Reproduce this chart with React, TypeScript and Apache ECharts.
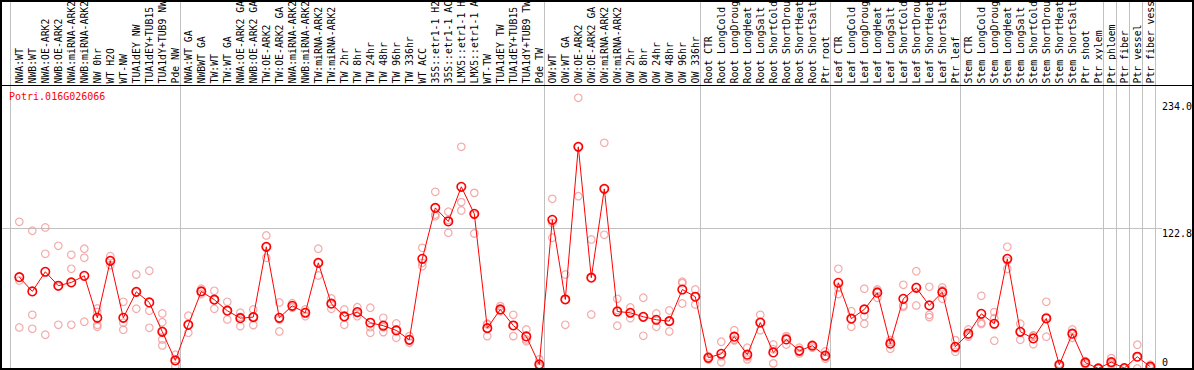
import React, { useEffect, useRef } from 'react';
import * as echarts from 'echarts';

const geneId = 'Potri.016G026066';

// labels as visible in the reference (cut at the top edge of the picture)
const categories: string[] = [
  'NWA:WT', 'NWB:WT', 'NWA:OE-ARK2', 'NWB:OE-ARK2', 'NWA:miRNA-ARK2', 'NWB:miRNA-ARK2',
  'NW 0hr', 'WT H2O', 'WT-NW', 'TUA1dEY NW', 'TUA1dEY+TUB15', 'TUA1dY+TUB9 NW', 'Pde NW',
  'NWA:WT GA', 'NWBWT GA', 'TW:WT', 'TW:WT GA', 'NWA:OE-ARK2 GA', 'NWB:OE-ARK2 GA',
  'TW:OE-ARK2', 'TW:OE-ARK2 GA', 'NWA:miRNA-ARK2', 'NWB:miRNA-ARK2', 'TW:miRNA-ARK2',
  'TW:miRNA-ARK2', 'TW 2hr', 'TW 8hr', 'TW 24hr', 'TW 48hr', 'TW 96hr', 'TW 336hr',
  'WT ACC', '35S::etr1-1 H2', '35S::etr1-1 AC', 'LMX5::etr1-1 H', 'LMX5::etr1-1 A',
  'WT-TW', 'TUA1dEY TW', 'TUA1dEY+TUB15', 'TUA1dY+TUB9 TW', 'Pde TW',
  'OW:WT', 'OW:WT GA', 'OW:OE-ARK2', 'OW:OE-ARK2 GA', 'OW:miRNA-ARK2', 'OW:miRNA-ARK2',
  'OW 2hr', 'OW 8hr', 'OW 24hr', 'OW 48hr', 'OW 96hr', 'OW 336hr',
  'Root CTR', 'Root LongCold', 'Root LongDroug', 'Root LongHeat', 'Root LongSalt',
  'Root ShortCold', 'Root ShortDrou', 'Root ShortHeat', 'Root ShortSalt', 'Ptr root',
  'Leaf CTR', 'Leaf LongCold', 'Leaf LongDroug', 'Leaf LongHeat', 'Leaf LongSalt',
  'Leaf ShortCold', 'Leaf ShortDrou', 'Leaf ShortHeat', 'Leaf ShortSalt', 'Ptr leaf',
  'Stem CTR', 'Stem LongCold', 'Stem LongDroug', 'Stem LongHeat', 'Stem LongSalt',
  'Stem ShortCold', 'Stem ShortDrou', 'Stem ShortHeat', 'Stem ShortSalt', 'Ptr shoot',
  'Ptr xylem', 'Ptr phloem', 'Ptr fiber', 'Ptr vessel', 'Ptr fiber vess',
];

const groupSizes: number[] = [13, 28, 12, 10, 10, 11, 1, 1, 1, 1];

const means: number[] = [
  79.7, 67.2, 84.4, 72.2, 75.1, 80.9, 44.2, 94.0, 44.2, 66.9, 57.6, 32.0, 7.0,
  38.1, 67.2, 60.0, 50.4, 43.9, 44.8, 106.2, 44.2, 54.7, 48.6, 92.2, 56.5, 45.4, 49.2,
  39.9, 37.3, 33.2, 25.0, 95.7, 140.2, 128.3, 158.6, 135.0, 35.2, 51.5, 37.5, 27.9, 3.5,
  129.8, 60.2, 193.5, 79.2, 156.8, 49.7, 48.6, 45.1, 42.5, 41.3, 68.9, 62.6,
  9.3, 12.8, 27.7, 12.0, 40.1, 14.0, 25.3, 15.4, 19.8, 11.1,
  74.8, 43.4, 51.5, 66.1, 21.6, 60.8, 70.4, 55.0, 66.6, 18.9,
  30.3, 47.7, 39.0, 95.7, 32.0, 26.2, 43.6, 3.2, 30.3, 5.0, 0.0,
  5.5, 0.3, 10.2, 1.5,
];

const replicates: number[][] = [
  [128, 76.8, 35.8], [120.2, 46.8, 34.6], [123.1, 100.1, 29.4], [107.1, 71.4, 38.1],
  [99.2, 87, 38.1], [104.5, 96.6, 40.8], [52.4, 49.2, 38.1, 36.4], [98, 94, 90.2],
  [58.2, 39.9, 33.8], [82, 66.6, 52.1], [85.3, 50.4, 35.5], [48, 40.4, 33, 25.3, 20.1],
  [12, 7, 2],
  [46, 38.1, 31.2], [69.6, 67.2, 65], [67.8, 60, 52.1], [58.2, 50.4, 42.8], [48.6, 45, 36.9],
  [51.5, 45, 37.8], [116.1, 106, 96.6], [57.6, 42.8, 32.3], [57, 54, 53], [51.5, 49, 45.6],
  [104.5, 92, 81.2], [61.1, 56.5, 52.1], [51.5, 45.4, 38.1], [53.5, 48.6, 45.6], [53, 36, 31.2],
  [44.2, 36, 31.7], [39.3, 34, 26.8], [28.2, 25, 22.4], [105.3, 92.2, 89.3], [154.2, 134.4, 132.9],
  [136.8, 129.5, 118.4], [193.5, 145.2, 137.9], [153.3, 134, 117.8], [39, 38.4, 28.2],
  [54.4, 51, 50], [46.8, 37.5, 28.2], [34, 25.3, 23.8], [7.9, 2, 0.6],
  [148.1, 127, 114.1], [82, 60.2, 38.1], [236.3, 193.5, 150.4], [112.6, 79.2, 47.1],
  [197, 156.8, 116.7], [60.8, 51, 37.3], [53.2, 48.6, 43.9], [61.7, 45.1, 28.5], [48, 42.5, 36.4],
  [50.6, 41.3, 32.3], [75.7, 74.5, 56.7], [68.9, 62.6, 55.9],
  [10.7, 9.3, 7.9], [23.3, 10.7, 5.5], [33.4, 25.3, 24.5], [18.1, 10, 7.9], [46.8, 40.1, 33.4],
  [20.9, 16.7, 4.4], [28.2, 26.8, 20.9], [18.1, 15.4, 13.1], [20.9, 19.8, 18.1], [14.8, 10, 8.5],
  [87, 70.4, 64.9], [50, 43.4, 36.4], [69.6, 45.6, 39], [68.9, 67.7, 61.7], [24.7, 22.9, 17.2],
  [73, 55, 53.8], [84.9, 71.3, 55], [71.3, 46.8, 44.8], [70.7, 68.3, 60.8], [24.7, 17.4, 14.6],
  [34, 29.2, 27.7], [63.4, 39.9, 38.7], [49.2, 43.9, 24.2], [106.2, 94, 87], [39, 32, 25],
  [28.8, 28.6, 21.2], [58.2, 44.9, 27.7], [4, 3.2, 2.4], [34, 30.1, 26.8], [6.4, 5, 3.5],
  [0.5, 0, 0],
  [9, 4.4, 3.1], [0.6, 0.3, 0], [20.7, 9.9, 0], [3.2, 1.5, 0.3],
];

const yTickValues: number[] = [0, 122.8, 234.0];
const yGridValues: number[] = [122.8];

export default function App() {
  const ref = useRef<HTMLDivElement>(null);

  useEffect(() => {
    if (!ref.current) return;
    const chart = echarts.init(ref.current, null, { renderer: 'svg' });
    const mono = 'DejaVu Sans Mono';

    // separator positions: just right of the last point of each group
    const sepValues: number[] = [];
    let end = -1;
    sepValues.push(end + 0.33);
    groupSizes.forEach((n) => {
      end += n;
      sepValues.push(end + 0.38);
    });

    const repData: number[][] = [];
    replicates.forEach((reps, i) => reps.forEach((v) => repData.push([i, v])));

    chart.setOption({
      animation: false,
      backgroundColor: '#ffffff',
      title: {
        text: geneId,
        left: 9,
        top: 91,
        padding: 0,
        textStyle: { color: '#ff0000', fontSize: 10, fontFamily: mono, fontWeight: 'normal' },
      },
      grid: { left: 1, right: 32, top: 0, bottom: 1, containLabel: false, outerBoundsMode: 'none' },
      xAxis: {
        type: 'value',
        position: 'top',
        offset: -85,
        min: -1.408,
        max: 87.9,
        axisLine: { show: false },
        axisTick: { show: false },
        splitLine: { show: false },
        axisLabel: {
          customValues: categories.map((_, i) => i),
          formatter: (v: number) => categories[Math.round(v)] ?? '',
          rotate: 90,
          margin: 1.5,
          hideOverlap: false,
          fontFamily: mono,
          fontSize: 9.8,
          color: '#000000',
        },
      },
      yAxis: {
        type: 'value',
        position: 'right',
        min: -0.5,
        max: 321.7,
        axisLine: { show: false },
        axisTick: { show: false },
        splitLine: { show: false },
        axisLabel: {
          customValues: yTickValues,
          margin: 0,
          formatter: (v: number) => (v === 0 ? '{b|0}' : '{a|' + v.toFixed(1) + '}'),
          rich: {
            a: { padding: [12, 0, 0, 0], fontFamily: mono, fontSize: 10, lineHeight: 12, color: '#000' },
            b: { padding: [0, 0, 11, 0], fontFamily: mono, fontSize: 10, lineHeight: 12, color: '#000' },
          },
        },
      },
      series: [
        {
          type: 'line',
          data: [],
          z: 1,
          markLine: {
            silent: true,
            z: 1,
            symbol: ['none', 'none'],
            label: { show: false },
            lineStyle: { color: '#c0c0c0', width: 1, type: 'solid' },
            emphasis: { disabled: true },
            data: [
              ...sepValues.map((v) => ({ xAxis: v })),
              ...yGridValues.map((v) => ({ yAxis: v })),
            ],
          },
        },
        {
          type: 'scatter',
          data: repData,
          z: 2,
          symbol: 'circle',
          symbolSize: 7.5,
          itemStyle: { color: 'rgba(255,255,255,0)', borderColor: '#f09696', borderWidth: 1.2 },
          emphasis: { disabled: true },
        },
        {
          type: 'line',
          data: means.map((v, i) => [i, v]),
          z: 3,
          symbol: 'circle',
          symbolSize: 8.5,
          showSymbol: true,
          lineStyle: { color: '#ff0000', width: 1 },
          itemStyle: { color: 'rgba(255,255,255,0)', borderColor: '#ff0000', borderWidth: 1.6 },
          emphasis: { disabled: true },
        },
      ],
      graphic: [
        {
          type: 'rect',
          silent: true,
          z: 100,
          shape: { x: 1, y: 1, width: 1192, height: 368 },
          style: { fill: 'none', stroke: '#000000', lineWidth: 2 },
        },
        {
          type: 'line',
          silent: true,
          z: 100,
          shape: { x1: 0, y1: 85.5, x2: 1194, y2: 85.5 },
          style: { stroke: '#000000', lineWidth: 1 },
        },
      ],
    });

    return () => chart.dispose();
  }, []);

  return (
    <div
      ref={ref}
      style={{ position: 'absolute', left: 0, top: 0, width: 1194, height: 370 }}
    />
  );
}
